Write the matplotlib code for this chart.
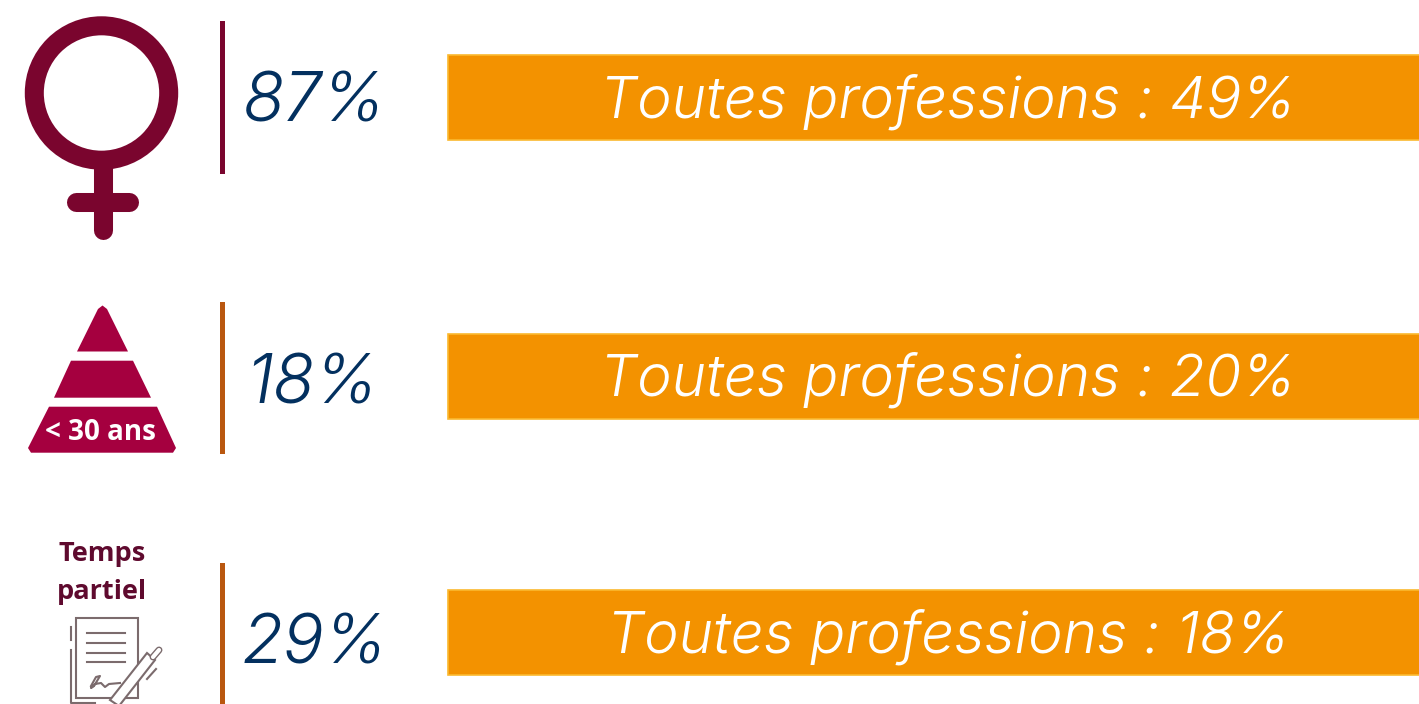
"""Three key figures with comparison banners, drawn in pixel coordinates."""

import matplotlib
matplotlib.use("Agg")
import matplotlib.pyplot as plt
from matplotlib.patches import Circle, Rectangle, Polygon

values = [87, 18, 29]
all_jobs = [49, 20, 18]
banner_label = "Toutes professions"
age_label = "< 30 ans"
part_time_label = ["Temps", "partiel"]

NAVY = "#03305f"
ORANGE = "#f39200"
WINE = "#7a052e"
CRIMSON = "#a5003f"
RUST = "#b9570f"
GREY = "#7b6b6d"

divider_colors = [WINE, RUST, RUST]
divider_top = [21, 302, 563]
divider_bottom = [174, 454, 704]
banner_top = [55, 333.5, 590]
value_x = [243, 246, 242]
value_base = [121, 404, 664]
banner_base = [118, 396, 653]

fig = plt.figure(figsize=(14.19, 7.04), dpi=100)
ax = fig.add_axes([0, 0, 1, 1])
ax.set_xlim(0, 1419)
ax.set_ylim(704, 0)
ax.axis("off")

# rows
for i in range(3):
    ax.add_patch(Rectangle((220, divider_top[i]), 4.6, divider_bottom[i] - divider_top[i],
                           color=divider_colors[i], lw=0))
    ax.text(value_x[i], value_base[i], f"{values[i]}%", color=NAVY, fontsize=49,
            family="Inter", style="italic", weight=300, va="baseline", ha="left")
    ax.add_patch(Rectangle((448, banner_top[i]), 980, 85, facecolor=ORANGE,
                           edgecolor="#fbb92f", lw=1.2))
    ax.text(948, banner_base[i], f"{banner_label} : {all_jobs[i]}%", color="white", fontsize=42,
            family="Inter", style="italic", weight=300, va="baseline", ha="center")

# female symbol
ax.add_patch(Circle((101.5, 93), 67.2, facecolor="none", edgecolor=WINE, lw=13.7))
ax.plot([102.5, 102.5], [165, 230], color=WINE, lw=13.7, solid_capstyle="round")
ax.plot([75.5, 128.5], [201.5, 201.5], color=WINE, lw=13.7, solid_capstyle="round")

# age pyramid
ax.add_patch(Polygon([(98, 309), (102.5, 305.5), (107, 309), (128, 351.5), (77, 351.5)],
                     color=CRIMSON, lw=0))
ax.add_patch(Polygon([(71, 360.7), (133, 360.7), (151, 397.7), (54, 397.7)], color=CRIMSON, lw=0))
ax.add_patch(Polygon([(49, 406.7), (157, 406.7), (176, 448), (173, 452.7), (31, 452.7), (28, 448)],
                     color=CRIMSON, lw=0))
ax.text(100.5, 439.5, age_label, color="white", fontsize=20, family="Open Sans", weight="bold",
        ha="center", va="baseline")

# part-time label and contract icon
ax.text(102, 561, part_time_label[0], color="#5f0a2e", fontsize=19.5, family="Open Sans",
        weight="bold", ha="center", va="baseline")
ax.text(102, 599, part_time_label[1], color="#5f0a2e", fontsize=19.5, family="Open Sans",
        weight="bold", ha="center", va="baseline")
ax.add_patch(Rectangle((75.5, 618), 62, 80, facecolor="none", edgecolor=GREY, lw=1.5))
for y in [633, 643, 653, 662]:
    ax.plot([87, 125], [y, y], color=GREY, lw=1.5)
ax.plot([70.5, 70.5], [627, 640], color=GREY, lw=1.5)
ax.plot([70.5, 70.5, 95], [650, 703, 703], color=GREY, lw=1.5)
ax.plot([91, 96, 100, 94, 91, 95, 101, 105, 109, 120],
        [686, 677, 676, 686, 688, 684, 683, 687, 684, 683], color=GREY, lw=1.5)
# pen
ax.add_patch(Polygon([(147, 653), (155, 660), (119, 706), (110, 700)],
                     facecolor="white", edgecolor=GREY, lw=1.5))
ax.plot([153, 159], [657, 650], color=GREY, lw=5, solid_capstyle="round")
ax.plot([153, 159], [657, 650], color="white", lw=3, solid_capstyle="round")
ax.plot([147, 156], [679, 669], color=GREY, lw=1.5)

fig.savefig("out.png", dpi=100, facecolor="white")
